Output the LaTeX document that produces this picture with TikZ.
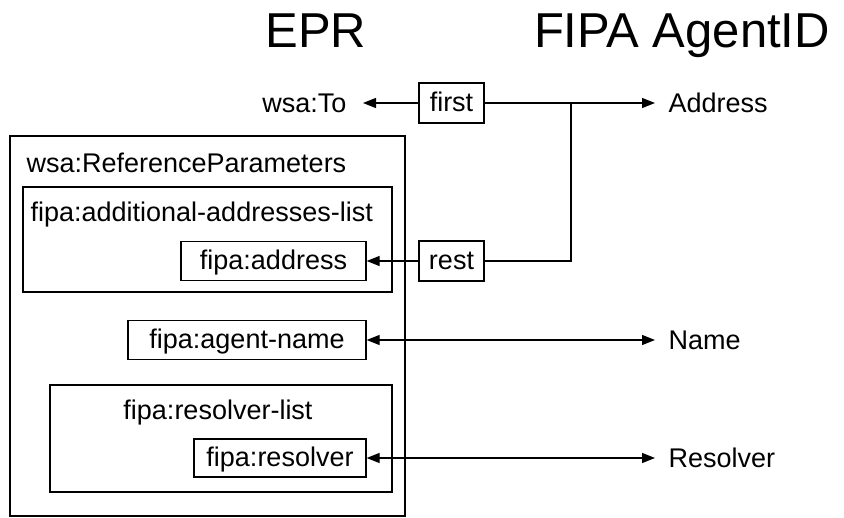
\documentclass[tikz,border=0pt]{standalone}
\usepackage{fontspec}
\setmainfont{Liberation Sans}
\usetikzlibrary{arrows.meta}

\begin{document}
\begin{tikzpicture}[x=1pt,y=-1pt,line width=1.3pt,
  every node/.style={font=\fontsize{27}{32}\selectfont},
  elem/.style={draw,minimum height=39pt,inner sep=0pt,text height=22pt,text depth=4pt},
  lbl/.style={inner xsep=13pt,inner ysep=0pt},
  title/.style={font=\fontsize{49}{56}\selectfont,anchor=base},
  >={Triangle[length=13pt,width=10pt]}]
  \useasboundingbox (0,0) rectangle (844,518);

  \node[title] (epr) at (316,48) {EPR};
  \node[title] (agentid) at (682,48) {FIPA AgentID};

  % EPR side
  \draw (10,136) rectangle (405,516);
  \draw (23,187) rectangle (392,292);
  \draw (50,385) rectangle (392,492);
  \node[anchor=base west,inner sep=0pt] (refparams) at (26,173) {wsa:ReferenceParameters};
  \node[anchor=base west,inner sep=0pt] (addrlist) at (30,222) {fipa:additional-addresses-list};
  \node[anchor=base,inner sep=0pt] (reslist) at (218,420) {fipa:resolver-list};
  \node[lbl,anchor=east,inner xsep=16pt] (wsato) at (363,103) {wsa:To};
  \node[elem,minimum width=185pt] (fipaaddr) at (273.5,261) {fipa:address};
  \node[elem,minimum width=238pt] (agentname) at (247,340) {fipa:agent-name};
  \node[elem,minimum width=172pt,minimum height=38pt] (resolver) at (280,458) {fipa:resolver};

  % middle
  \node[elem,minimum width=65pt,minimum height=40pt] (first) at (451.5,103) {first};
  \node[elem,minimum width=65pt,minimum height=40pt] (rest) at (451.5,261) {rest};
  \coordinate (join) at (571,103);

  % AgentID side
  \node[lbl,anchor=west] (address) at (655,103) {Address};
  \node[lbl,anchor=west] (name) at (655,340) {Name};
  \node[lbl,anchor=west] (resname) at (655,458) {Resolver};

  \draw[->] (first) -- (wsato);
  \draw[->] (first) -- (address);
  \draw[->] (rest) -- (fipaaddr);
  \draw (rest) -| (join);
  \draw[<->] (agentname) -- (name);
  \draw[<->] (resolver) -- (resname);
\end{tikzpicture}
\end{document}
